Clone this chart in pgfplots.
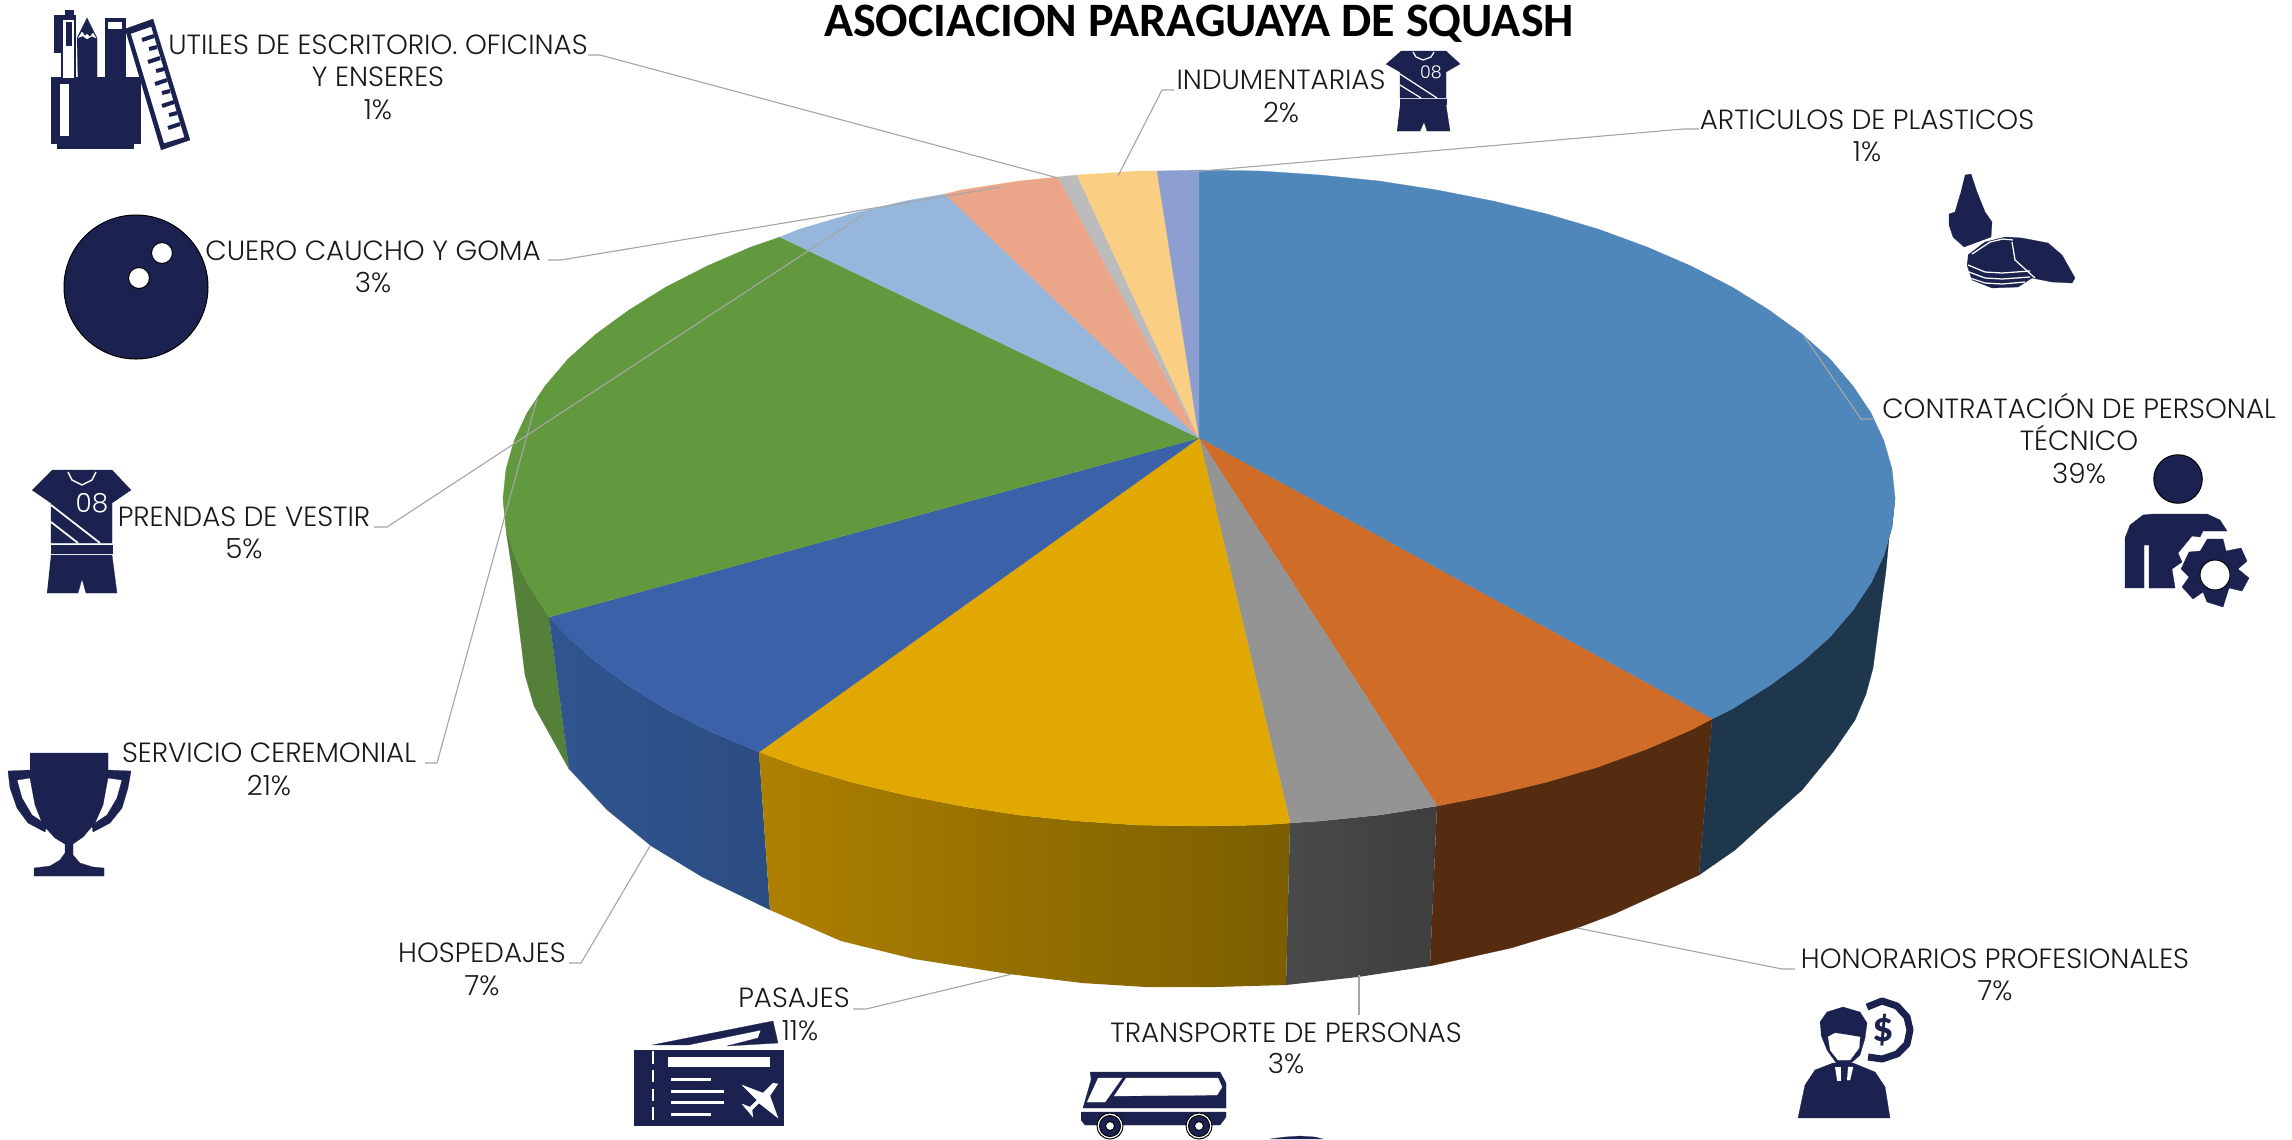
\documentclass[border=0pt]{standalone}
\usepackage{pgfplots}
\usepackage{fontspec}
\pgfplotsset{compat=1.18}
\setmainfont{Poppins}[UprightFont=* Light]
\newfontfamily\titlef{Carlito}[UprightFont=* Bold]
\definecolor{navy}{HTML}{1B2250}
\definecolor{lead}{HTML}{A6A6A6}
\definecolor{wgreen}{HTML}{55803A}
\definecolor{wbl}{HTML}{30558F}
\definecolor{wbr}{HTML}{2C4D83}
\definecolor{wyl}{HTML}{AE8000}
\definecolor{wyr}{HTML}{7A5E00}
\definecolor{wgl}{HTML}{4A4A4A}
\definecolor{wgr}{HTML}{3E3E3E}
\definecolor{wbrown}{HTML}{562C10}
\definecolor{wdk}{HTML}{1F374D}
\definecolor{t1}{HTML}{4F87BB}
\definecolor{t2}{HTML}{CF6C28}
\definecolor{t3}{HTML}{949494}
\definecolor{t4}{HTML}{E0A800}
\definecolor{t5}{HTML}{3B62A8}
\definecolor{t6}{HTML}{62993E}
\definecolor{t7}{HTML}{96B6DC}
\definecolor{t8}{HTML}{EBA689}
\definecolor{t9}{HTML}{BCBCBC}
\definecolor{t10}{HTML}{FBCF83}
\definecolor{t11}{HTML}{8D9FD1}
\newcommand\poly[2]{\addplot[fill=#1,draw=#1,line width=0.1pt] coordinates {#2};}
\newcommand\wline[2]{\addplot[draw=white,line width=#1,line join=round] coordinates {#2};}
\newcommand\nline[2]{\addplot[draw=navy,line width=#1,line join=round] coordinates {#2};}
\newcommand\leader[1]{\addplot[draw=lead,line width=0.45pt] coordinates {#1};}
\newcommand\dotm[3]{\addplot[only marks,mark=*,mark size=#2,mark options={fill=#1,draw=none}] coordinates {#3};}
\newcommand\lab[3]{\node[anchor=base,inner sep=0pt,yshift=1.1pt,text=black!90,font=\fontsize{11.1}{13}\selectfont] at (axis cs:#1,#2) {#3};}
\begin{document}
\begin{tikzpicture}
\begin{axis}[scale only axis,width=916.8pt,height=455.6pt,xmin=0,xmax=2292,ymin=0,ymax=1139,y dir=reverse,axis lines=none,clip=true]
\addplot[draw=none] coordinates {(0,0)(2292,1139)};
% side walls
\poly{wgreen}{(503,498)(506,527)(514,555)(527,583)(549,617)(569,769)(534,706)(525,675)(512,570)(506,530)}
\addplot[shade,left color=wbl,right color=wbr,draw=none] coordinates {(549,617)(568,637)(596,662)(629,686)(666,709)(707,730)(759,752)(770,910)(702,877)(651,846)(607,810)(569,769)};
\addplot[shade,left color=wyl,right color=wyr,draw=none] coordinates {(759,752)(800,767)(851,782)(905,795)(961,806)(1019,815)(1078,821)(1138,825)(1199,826)(1260,825)(1290,823)(1286,985)(1215,987)(1146,987)(1082,983)(1009,974)(914,959)(841,941)(770,910)};
\addplot[shade,left color=wgl,right color=wgr,draw=none] coordinates {(1290,823)(1320,821)(1379,815)(1437,806)(1430,966)(1358,977)(1286,985)};
\poly{wbrown}{(1437,806)(1493,795)(1547,782)(1598,767)(1647,749)(1691,730)(1712,719)(1699,875)(1658,894)(1614,914)(1577,928)(1511,948)(1430,966)}
\poly{wdk}{(1712,719)(1732,709)(1769,686)(1802,662)(1830,637)(1853,610)(1871,583)(1884,555)(1892,527)(1895,498)(1893,495)(1886,570)(1873,668)(1866,694)(1855,720)(1833,752)(1802,790)(1767,821)(1735,850)(1699,875)}
% top face
\poly{t1}{(1199,438)(1199,170)(1260,171)(1320,175)(1379,181)(1437,190)(1493,201)(1547,214)(1598,229)(1647,247)(1691,266)(1732,287)(1769,310)(1802,334)(1830,359)(1853,386)(1871,413)(1884,441)(1892,469)(1895,498)(1892,527)(1884,555)(1871,583)(1853,610)(1830,637)(1802,662)(1769,686)(1732,709)(1712,719)}
\poly{t2}{(1199,438)(1712,719)(1691,730)(1647,749)(1598,767)(1547,782)(1493,795)(1437,806)}
\poly{t3}{(1199,438)(1437,806)(1379,815)(1320,821)(1290,823)}
\poly{t4}{(1199,438)(1290,823)(1260,825)(1199,826)(1138,825)(1078,821)(1019,815)(961,806)(905,795)(851,782)(800,767)(759,752)}
\poly{t5}{(1199,438)(759,752)(707,730)(666,709)(629,686)(596,662)(568,637)(549,617)}
\poly{t6}{(1199,438)(549,617)(527,583)(514,555)(506,527)(503,498)(506,469)(514,441)(527,413)(545,386)(568,359)(596,334)(629,310)(666,287)(707,266)(751,247)(780,237)}
\poly{t7}{(1199,438)(780,237)(800,229)(851,214)(905,201)(945,194)}
\poly{t8}{(1199,438)(945,194)(961,190)(1019,181)(1058,177)}
\poly{t9}{(1199,438)(1058,177)(1077,175)}
\poly{t10}{(1199,438)(1077,175)(1138,171)(1157,171)}
\poly{t11}{(1199,438)(1157,171)(1199,170)}
% leaders
\leader{(588,55)(600,55)(1058,178)}
\leader{(1174,90)(1162,90)(1118,176)}
\leader{(1699,129)(1683,129)(1190,172)}
\leader{(548,260)(561,260)(1001,187)}
\leader{(374,527)(387,527)(863,215)}
\leader{(425,763)(437,763)(537,399)}
\leader{(569,963)(581,963)(650,846)}
\leader{(853,1009)(866,1009)(1012,974)}
\leader{(1359,1015)(1359,975)}
\leader{(1795,969)(1782,969)(1577,928)}
\leader{(1873,419)(1861,419)(1804,336)}
% title
\node[anchor=base,inner sep=0pt,font=\titlef\fontsize{19.2}{21}\selectfont] at (axis cs:1199,36) {ASOCIACION PARAGUAYA DE SQUASH};
% labels
\lab{378}{57}{UTILES DE ESCRITORIO. OFICINAS}
\lab{378}{89}{Y ENSERES}
\lab{378}{122}{1\%}
\lab{1281}{92}{INDUMENTARIAS}
\lab{1281}{125}{2\%}
\lab{1867}{132}{ARTICULOS DE PLASTICOS}
\lab{1867}{164}{1\%}
\lab{373}{263}{CUERO CAUCHO Y GOMA}
\lab{373}{295}{3\%}
\lab{2079}{421}{CONTRATACIÓN DE PERSONAL}
\lab{2079}{453}{TÉCNICO}
\lab{2079}{486}{39\%}
\lab{244}{529}{PRENDAS DE VESTIR}
\lab{244}{561}{5\%}
\lab{269}{765}{SERVICIO CEREMONIAL}
\lab{269}{798}{21\%}
\lab{482}{965}{HOSPEDAJES}
\lab{482}{998}{7\%}
\lab{794}{1010}{PASAJES}
\lab{800}{1043}{11\%}
\lab{1286}{1045}{TRANSPORTE DE PERSONAS}
\lab{1286}{1076}{3\%}
\lab{1995}{971}{HONORARIOS PROFESIONALES}
\lab{1995}{1003}{7\%}
% icon: desk set
\poly{navy}{(51,77)(140,77)(140,143)(133,143)(133,148)(57,148)(57,143)(51,143)}
\poly{white}{(60,84)(68,84)(68,135)(60,135)}
\poly{navy}{(54,15)(75,15)(75,77)(61,77)(61,52)(54,52)}
\poly{navy}{(65,10)(73,10)(73,15)(65,15)}
\poly{white}{(63,20)(73,20)(73,77)(63,77)}
\poly{navy}{(66,22)(71,22)(71,45)(66,45)}
\poly{navy}{(78,77)(77,38)(87,18)(97,38)(97,77)}
\poly{white}{(78,38)(82,32)(85,36)(87,34)(90,37)(93,33)(96,38)(92,36)(87,39)(83,36)}
\poly{navy}{(105,18)(125,18)(125,77)(105,77)}
\poly{white}{(108,22)(121,22)(121,28)(108,28)}
\poly{navy}{(125,29)(153,19)(190,140)(161,150)}
\poly{white}{(131,34)(151,27)(184,137)(164,143)}
\nline{1.6pt}{(154,36)(142,40)}
\nline{1.6pt}{(157,47)(149,49)}
\nline{1.6pt}{(160,58)(148,62)}
\nline{1.6pt}{(164,69)(156,71)}
\nline{1.6pt}{(167,80)(155,84)}
\nline{1.6pt}{(170,91)(162,93)}
\nline{1.6pt}{(174,102)(162,106)}
\nline{1.6pt}{(177,113)(169,115)}
\nline{1.6pt}{(180,124)(168,128)}
% icon: ball
\dotm{navy}{28.8pt}{(136,287)}
\dotm{white}{4.2pt}{(162,253)}
\dotm{white}{4.2pt}{(139,278)}
% icon: large shirt
\poly{navy}{(52,470)(112,470)(131,490)(112,503)(112,543)(51,543)(51,503)(32,490)}
\wline{0.6pt}{(68,472)(72,480)(82,485)(92,480)(96,472)}
\wline{0.7pt}{(51,505)(100,543)}
\wline{0.7pt}{(51,522)(78,543)}
\poly{navy}{(51,545)(112,545)(112,553)(51,553)}
\poly{navy}{(51,555)(112,555)(117,593)(86,593)(82,579)(78,593)(47,593)}
\node[inner sep=0pt,text=white,font=\fontsize{10.5}{12}\selectfont] at (axis cs:92,503) {08};
% icon: small shirt
\poly{navy}{(1401,51)(1446,51)(1460,64)(1446,72)(1446,98)(1400,98)(1400,72)(1386,64)}
\wline{0.5pt}{(1413,52)(1416,57)(1423,60)(1431,57)(1434,52)}
\wline{0.5pt}{(1400,74)(1437,98)}
\wline{0.5pt}{(1400,85)(1421,98)}
\poly{navy}{(1400,99)(1446,99)(1446,104)(1400,104)}
\poly{navy}{(1400,105)(1446,105)(1450,131)(1427,131)(1424,122)(1420,131)(1397,131)}
\node[inner sep=0pt,text=white,font=\fontsize{7}{8}\selectfont] at (axis cs:1431,72) {08};
% icon: trophy
\poly{navy}{(30,770)(8,771)(10,788)(17,808)(28,823)(45,832)(47,825)(32,815)(22,798)(17,780)(30,778)}
\poly{navy}{(108,770)(131,771)(128,788)(122,808)(110,823)(93,832)(92,825)(107,815)(117,798)(122,780)(108,778)}
\poly{navy}{(30,753)(108,753)(108,778)(103,805)(95,823)(83,837)(73,844)(73,855)(80,863)(93,867)(104,868)(104,876)(34,876)(34,868)(50,866)(60,860)(65,853)(65,844)(55,838)(43,825)(35,805)(30,778)}
% icon: ticket
\poly{navy}{(652,1045)(773,1021)(778,1043)(727,1046)(758,1038)(761,1030)(688,1045)}
\poly{navy}{(634,1050)(783,1050)(783,1125)(634,1125)}
\addplot[draw=white,line width=1pt,dash pattern=on 5pt off 2.5pt] coordinates {(653,1051)(653,1125)};
\poly{white}{(668,1057)(769,1057)(769,1066)(668,1066)}
\wline{1.2pt}{(671,1079)(711,1079)}
\wline{1.2pt}{(671,1091)(724,1091)}
\wline{1.2pt}{(671,1102)(724,1102)}
\wline{1.2pt}{(671,1114)(711,1114)}
\poly{white}{(778,1084)(773,1083)(763,1093)(742,1085)(757,1100)(750,1107)(742,1104)(753,1117)(752,1110)(759,1103)(778,1118)(770,1096)}
% icon: bus
\poly{navy}{(1090,1072)(1220,1072)(1226,1083)(1226,1108)(1083,1108)(1091,1080)}
\poly{white}{(1126,1078)(1218,1078)(1222,1087)(1217,1095)(1114,1096)}
\poly{white}{(1098,1078)(1122,1078)(1105,1102)(1087,1102)}
\poly{navy}{(1081,1112)(1226,1112)(1226,1117)(1220,1125)(1085,1125)(1081,1120)}
\dotm{white}{5.2pt}{(1110,1126)(1199,1126)}
\dotm{navy}{4.2pt}{(1110,1126)(1199,1126)}
\dotm{white}{1.8pt}{(1110,1126)(1199,1126)}
\poly{navy}{(1270,1139)(1285,1137)(1300,1136)(1315,1137)(1323,1139)}
% icon: money man
\nline{2.8pt}{(1867,1007)(1882,1001)(1897,1006)(1907,1017)(1910,1030)(1907,1044)(1897,1054)(1882,1059)(1868,1057)}
\node[inner sep=0pt,text=navy,font=\titlef\fontsize{17}{18}\selectfont] at (axis cs:1883,1030) {\$};
\poly{navy}{(1798,1118)(1805,1085)(1815,1070)(1833,1063)(1853,1063)(1875,1072)(1885,1087)(1890,1118)}
\poly{navy}{(1820,1022)(1827,1012)(1843,1007)(1860,1012)(1867,1023)(1865,1038)(1860,1055)(1850,1064)(1837,1064)(1827,1050)(1821,1035)}
\poly{white}{(1828,1037)(1835,1033)(1848,1035)(1860,1037)(1859,1048)(1850,1060)(1838,1060)(1830,1050)}
\poly{white}{(1835,1067)(1840,1067)(1840,1080)(1837,1080)}
\poly{white}{(1848,1067)(1853,1067)(1850,1080)(1847,1080)}
% icon: person with gear
\dotm{navy}{9.7pt}{(2178,479)}
\poly{navy}{(2125,588)(2125,538)(2130,525)(2143,515)(2153,514)(2207,514)(2220,520)(2227,531)(2203,531)(2200,537)(2192,536)(2178,553)(2182,562)(2172,569)(2175,588)(2149,588)(2149,545)(2144,545)(2144,588)}
\poly{navy}{(2207,539)(2223,539)(2226,551)(2241,548)(2247,561)(2238,569)(2249,578)(2242,591)(2229,588)(2223,607)(2207,602)(2203,592)(2193,599)(2182,587)(2189,577)(2181,569)(2189,552)(2200,551)}
\dotm{white}{6pt}{(2215,575)}
% icon: cones
\poly{navy}{(1965,175)(1971,174)(1977,192)(1985,212)(1992,222)(1991,237)(1964,247)(1953,237)(1949,225)(1949,214)(1955,212)(1960,195)}
\poly{navy}{(1968,255)(1985,242)(2005,237)(2022,238)(2048,243)(2062,255)(2075,278)(2072,283)(2052,282)(2032,278)(2018,287)(1992,288)(1972,280)(1967,265)}
\wline{0.5pt}{(1968,265)(1985,272)(2002,273)(2030,271)}
\wline{0.5pt}{(1969,272)(1985,278)(2002,279)(2030,277)}
\wline{0.5pt}{(1970,278)(1985,283)(2002,284)(2025,282)}
\wline{0.5pt}{(2012,242)(2015,260)(2035,278)}
\wline{0.5pt}{(1972,254)(1990,242)(2003,239)(2013,240)}
\end{axis}
\end{tikzpicture}
\end{document}
